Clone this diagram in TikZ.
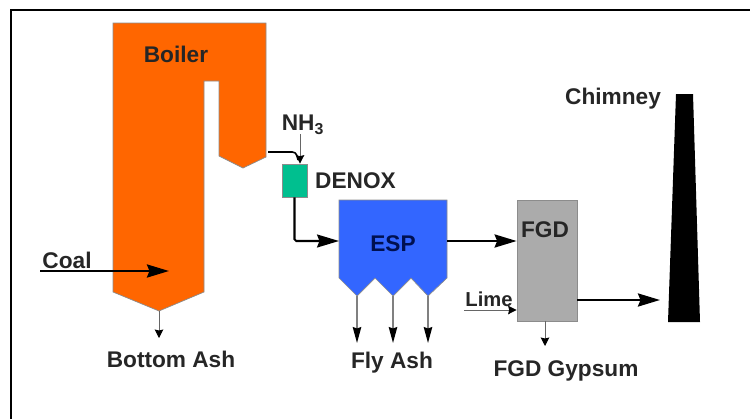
\documentclass[tikz,border=0pt]{standalone}
\usepackage{fontspec}
\setmainfont{Liberation Sans}
\usetikzlibrary{arrows.meta,positioning,calc}
\definecolor{boilerOrange}{HTML}{FF6600}
\definecolor{denoxGreen}{HTML}{00BF8F}
\definecolor{espBlue}{HTML}{3366FF}
\definecolor{espText}{HTML}{001050}

\begin{document}
\begin{tikzpicture}[
    x=0.02cm, y=-0.02cm,
    lbl/.style={font=\fontsize{12.9}{15}\selectfont\bfseries, text=black!85, inner sep=0pt},
    unit/.style={draw=black!45, line width=0.4pt},
    flow/.style={-{Stealth[length=4.4mm,width=2.6mm,inset=0.5mm]}, line width=1.5pt},
    drop/.style={-{Stealth[length=3.2mm,width=1.7mm,inset=0.3mm,color=black]}, draw=black!50, line width=0.9pt},
    thin flow/.style={-{Stealth[length=1.7mm,width=1.7mm,inset=0.2mm,color=black]}, draw=black!60, line width=0.5pt},
]
    \useasboundingbox (0,0) rectangle (750,419);
    \draw[line width=1.1pt] (750,10) -- (11,10) -- (11,419);

    % boiler
    \coordinate (boilerOut) at (268,152);
    \coordinate (boilerTip) at (159,311);
    \coordinate (coalIn) at (40,271);
    \coordinate (coalEnd) at (169,271);
    \coordinate (ashEnd) at (159,338);
    \draw[unit, fill=boilerOrange] (113,23) -- (266,23) -- (266,157) -- (243,168) -- (219,156) -- (219,81)
        -- (204,81) -- (204,292) -- (boilerTip) -- (113,292) -- cycle;
    \node[lbl] (boiler) at (176,54) {Boiler};
    \node[lbl] (coal) at (67,260) {Coal};
    \node[lbl] (bottomash) at (171,359) {Bottom Ash};

    % denox
    \node[unit, fill=denoxGreen, minimum width=0.5cm, minimum height=0.66cm, inner sep=0pt] (denox) at (294.5,180.5) {};
    \node[lbl, right=0.15cm of denox] (denoxlabel) {DENOX};
    \node[lbl] (nh3) at (303,125) {NH$_{\mathbf 3}$};
    \coordinate (nh3In) at (300,134);

    % esp
    \coordinate (espIn) at (339,241);
    \coordinate (espOut) at (447,241);
    \coordinate (hopperA) at (357,296);
    \coordinate (hopperB) at (393,296);
    \coordinate (hopperC) at (428,296);
    \draw[unit, fill=espBlue] (339,200) -- (447,200) -- (447,278) -- (hopperC) -- (411,278) -- (hopperB)
        -- (375,278) -- (hopperA) -- (339,278) -- cycle;
    \node[lbl, text=espText] (esp) at (393,244) {ESP};
    \node[lbl] (flyash) at (392,363) {Fly Ash};
    \foreach \hopper in {A,B,C}
        \coordinate (ash\hopper) at ($(hopper\hopper)+(0,47)$);

    % fgd
    \node[unit, fill=black!33, minimum width=1.2cm, minimum height=2.42cm, inner sep=0pt] (fgd) at (547,260.5) {};
    \node[lbl] (fgdlabel) at (545,230) {FGD};
    \node[lbl, font=\fontsize{11.5}{14}\selectfont\bfseries] (lime) at (489,299) {Lime};
    \node[lbl] (gypsum) at (566,371) {FGD Gypsum};
    \coordinate (limeIn) at (464,310);
    \coordinate (gypsumEnd) at (545,346);

    % chimney
    \fill (668,322) -- (676,94) coordinate (chimneyTop) -- (693,94) -- (700,322) -- cycle;
    \node[lbl] (chimney) at (613,99) {Chimney};
    \coordinate (chimneyIn) at (660,300);

    \draw[flow] (coalIn) -- (coalEnd);
    \draw[thin flow] (boilerTip) -- (ashEnd);
    \draw[line width=0.9pt, rounded corners=2pt] (boilerOut) -- (296,152) -- (298,160);
    \draw[thin flow] (nh3In) -- (nh3In |- denox.north);
    \draw[flow, line width=1.2pt, rounded corners=1pt] (denox.south) -- (denox.south |- espIn) -- (espIn);
    \draw[flow] (espOut) -- (espOut -| fgd.west);
    \foreach \hopper in {A,B,C}
        \draw[drop] (hopper\hopper) -- (ash\hopper);
    \draw[thin flow] (limeIn) -- (limeIn -| fgd.west);
    \draw[thin flow] (gypsumEnd |- fgd.south) -- (gypsumEnd);
    \draw[flow] (chimneyIn -| fgd.east) -- (chimneyIn);
\end{tikzpicture}
\end{document}
